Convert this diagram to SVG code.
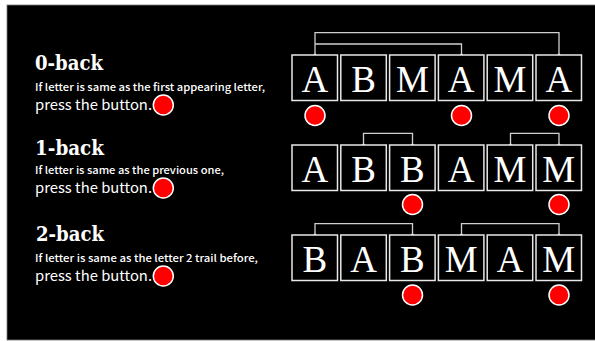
<svg xmlns="http://www.w3.org/2000/svg" width="595" height="341" viewBox="0 0 595 341">
<style>
.box{fill:#000;stroke:#e8e8e8;stroke-width:1.5}
.let{fill:#fff;font-family:"Liberation Serif",serif;font-size:37px;text-anchor:middle}
.conn{fill:none;stroke:#cfcfcf;stroke-width:1.3}
.dot{fill:#e0e0e0}
.btn{fill:#f00;stroke:#fff;stroke-width:1.5}
.title{fill:#fff;font-family:"DejaVu Serif",serif;font-size:21px;font-weight:bold}
.sub{fill:#fff;font-family:"Noto Sans CJK JP","Noto Sans",sans-serif;font-size:10px;font-weight:500}
.press{fill:#fff;font-family:"Noto Sans CJK JP","Noto Sans",sans-serif;font-size:14px}
</style>
<rect x="0" y="0" width="595" height="341" fill="#fff"/>
<rect x="7" y="5" width="589" height="335" fill="#000" stroke="#777" stroke-width="0.8"/>

<g id="text0">
<text class="title" x="35" y="70" textLength="68" lengthAdjust="spacingAndGlyphs">0-back</text>
<text class="sub" x="35" y="91" textLength="230" lengthAdjust="spacingAndGlyphs">If letter is same as the first appearing letter,</text>
<text class="press" x="35" y="109.5" textLength="117" lengthAdjust="spacingAndGlyphs">press the button.</text>
<circle class="btn" cx="163.3" cy="105" r="10"/>
</g>
<g id="text1">
<text class="title" x="35" y="155" textLength="69" lengthAdjust="spacingAndGlyphs">1-back</text>
<text class="sub" x="35" y="173.5" textLength="189" lengthAdjust="spacingAndGlyphs">If letter is same as the previous one,</text>
<text class="press" x="35" y="192.5" textLength="117" lengthAdjust="spacingAndGlyphs">press the button.</text>
<circle class="btn" cx="163.3" cy="188" r="10"/>
</g>
<g id="text2">
<text class="title" x="36" y="240.5" textLength="68" lengthAdjust="spacingAndGlyphs">2-back</text>
<text class="sub" x="35" y="262" textLength="223" lengthAdjust="spacingAndGlyphs">If letter is same as the letter 2 trail before,</text>
<text class="press" x="35" y="281" textLength="117" lengthAdjust="spacingAndGlyphs">press the button.</text>
<circle class="btn" cx="163.3" cy="276" r="10"/>
</g>

<g id="connectors">
<polyline class="conn" points="315,55 315,32.7 559,32.7 559,55"/>
<polyline class="conn" points="315,44 461.5,44 461.5,55"/>
<polyline class="conn" points="363.5,145 363.5,133.3 412.5,133.3 412.5,145"/>
<polyline class="conn" points="510.5,145 510.5,133.3 559,133.3 559,145"/>
<polyline class="conn" points="315,235 315,223.7 412.5,223.7 412.5,235"/>
<polyline class="conn" points="461.5,235 461.5,223.7 559,223.7 559,235"/>
<circle class="dot" cx="315" cy="55" r="1.6"/>
<circle class="dot" cx="461.5" cy="55" r="1.6"/>
<circle class="dot" cx="559" cy="55" r="1.6"/>
<circle class="dot" cx="363.5" cy="145" r="1.6"/>
<circle class="dot" cx="412.5" cy="145" r="1.6"/>
<circle class="dot" cx="510.5" cy="145" r="1.6"/>
<circle class="dot" cx="559" cy="145" r="1.6"/>
<circle class="dot" cx="315" cy="235" r="1.6"/>
<circle class="dot" cx="412.5" cy="235" r="1.6"/>
<circle class="dot" cx="461.5" cy="235" r="1.6"/>
<circle class="dot" cx="559" cy="235" r="1.6"/>
</g>

<g id="row0">
<g id="r0c0"><rect class="box" x="292" y="55" width="45.5" height="45.5"/><text class="let" x="314.8" y="91.5">A</text></g>
<g id="r0c1"><rect class="box" x="340.8" y="55" width="45.5" height="45.5"/><text class="let" x="363.6" y="91.5">B</text></g>
<g id="r0c2"><rect class="box" x="389.6" y="55" width="45.5" height="45.5"/><text class="let" x="412.4" y="91.5">M</text></g>
<g id="r0c3"><rect class="box" x="438.4" y="55" width="45.5" height="45.5"/><text class="let" x="461.2" y="91.5">A</text></g>
<g id="r0c4"><rect class="box" x="487.2" y="55" width="45.5" height="45.5"/><text class="let" x="510" y="91.5">M</text></g>
<g id="r0c5"><rect class="box" x="536" y="55" width="45.5" height="45.5"/><text class="let" x="558.8" y="91.5">A</text></g>
<circle class="btn" cx="315" cy="115.5" r="10"/>
<circle class="btn" cx="461.5" cy="115.5" r="10"/>
<circle class="btn" cx="559" cy="115.5" r="10"/>
</g>

<g id="row1">
<g id="r1c0"><rect class="box" x="292" y="145" width="45.5" height="45.5"/><text class="let" x="314.8" y="181.5">A</text></g>
<g id="r1c1"><rect class="box" x="340.8" y="145" width="45.5" height="45.5"/><text class="let" x="363.6" y="181.5">B</text></g>
<g id="r1c2"><rect class="box" x="389.6" y="145" width="45.5" height="45.5"/><text class="let" x="412.4" y="181.5">B</text></g>
<g id="r1c3"><rect class="box" x="438.4" y="145" width="45.5" height="45.5"/><text class="let" x="461.2" y="181.5">A</text></g>
<g id="r1c4"><rect class="box" x="487.2" y="145" width="45.5" height="45.5"/><text class="let" x="510" y="181.5">M</text></g>
<g id="r1c5"><rect class="box" x="536" y="145" width="45.5" height="45.5"/><text class="let" x="558.8" y="181.5">M</text></g>
<circle class="btn" cx="412.5" cy="204.5" r="10"/>
<circle class="btn" cx="559" cy="204.5" r="10"/>
</g>

<g id="row2">
<g id="r2c0"><rect class="box" x="292" y="235" width="45.5" height="45.5"/><text class="let" x="314.8" y="271.5">B</text></g>
<g id="r2c1"><rect class="box" x="340.8" y="235" width="45.5" height="45.5"/><text class="let" x="363.6" y="271.5">A</text></g>
<g id="r2c2"><rect class="box" x="389.6" y="235" width="45.5" height="45.5"/><text class="let" x="412.4" y="271.5">B</text></g>
<g id="r2c3"><rect class="box" x="438.4" y="235" width="45.5" height="45.5"/><text class="let" x="461.2" y="271.5">M</text></g>
<g id="r2c4"><rect class="box" x="487.2" y="235" width="45.5" height="45.5"/><text class="let" x="510" y="271.5">A</text></g>
<g id="r2c5"><rect class="box" x="536" y="235" width="45.5" height="45.5"/><text class="let" x="558.8" y="271.5">M</text></g>
<circle class="btn" cx="412.5" cy="295" r="10"/>
<circle class="btn" cx="559" cy="295" r="10"/>
</g>
</svg>
